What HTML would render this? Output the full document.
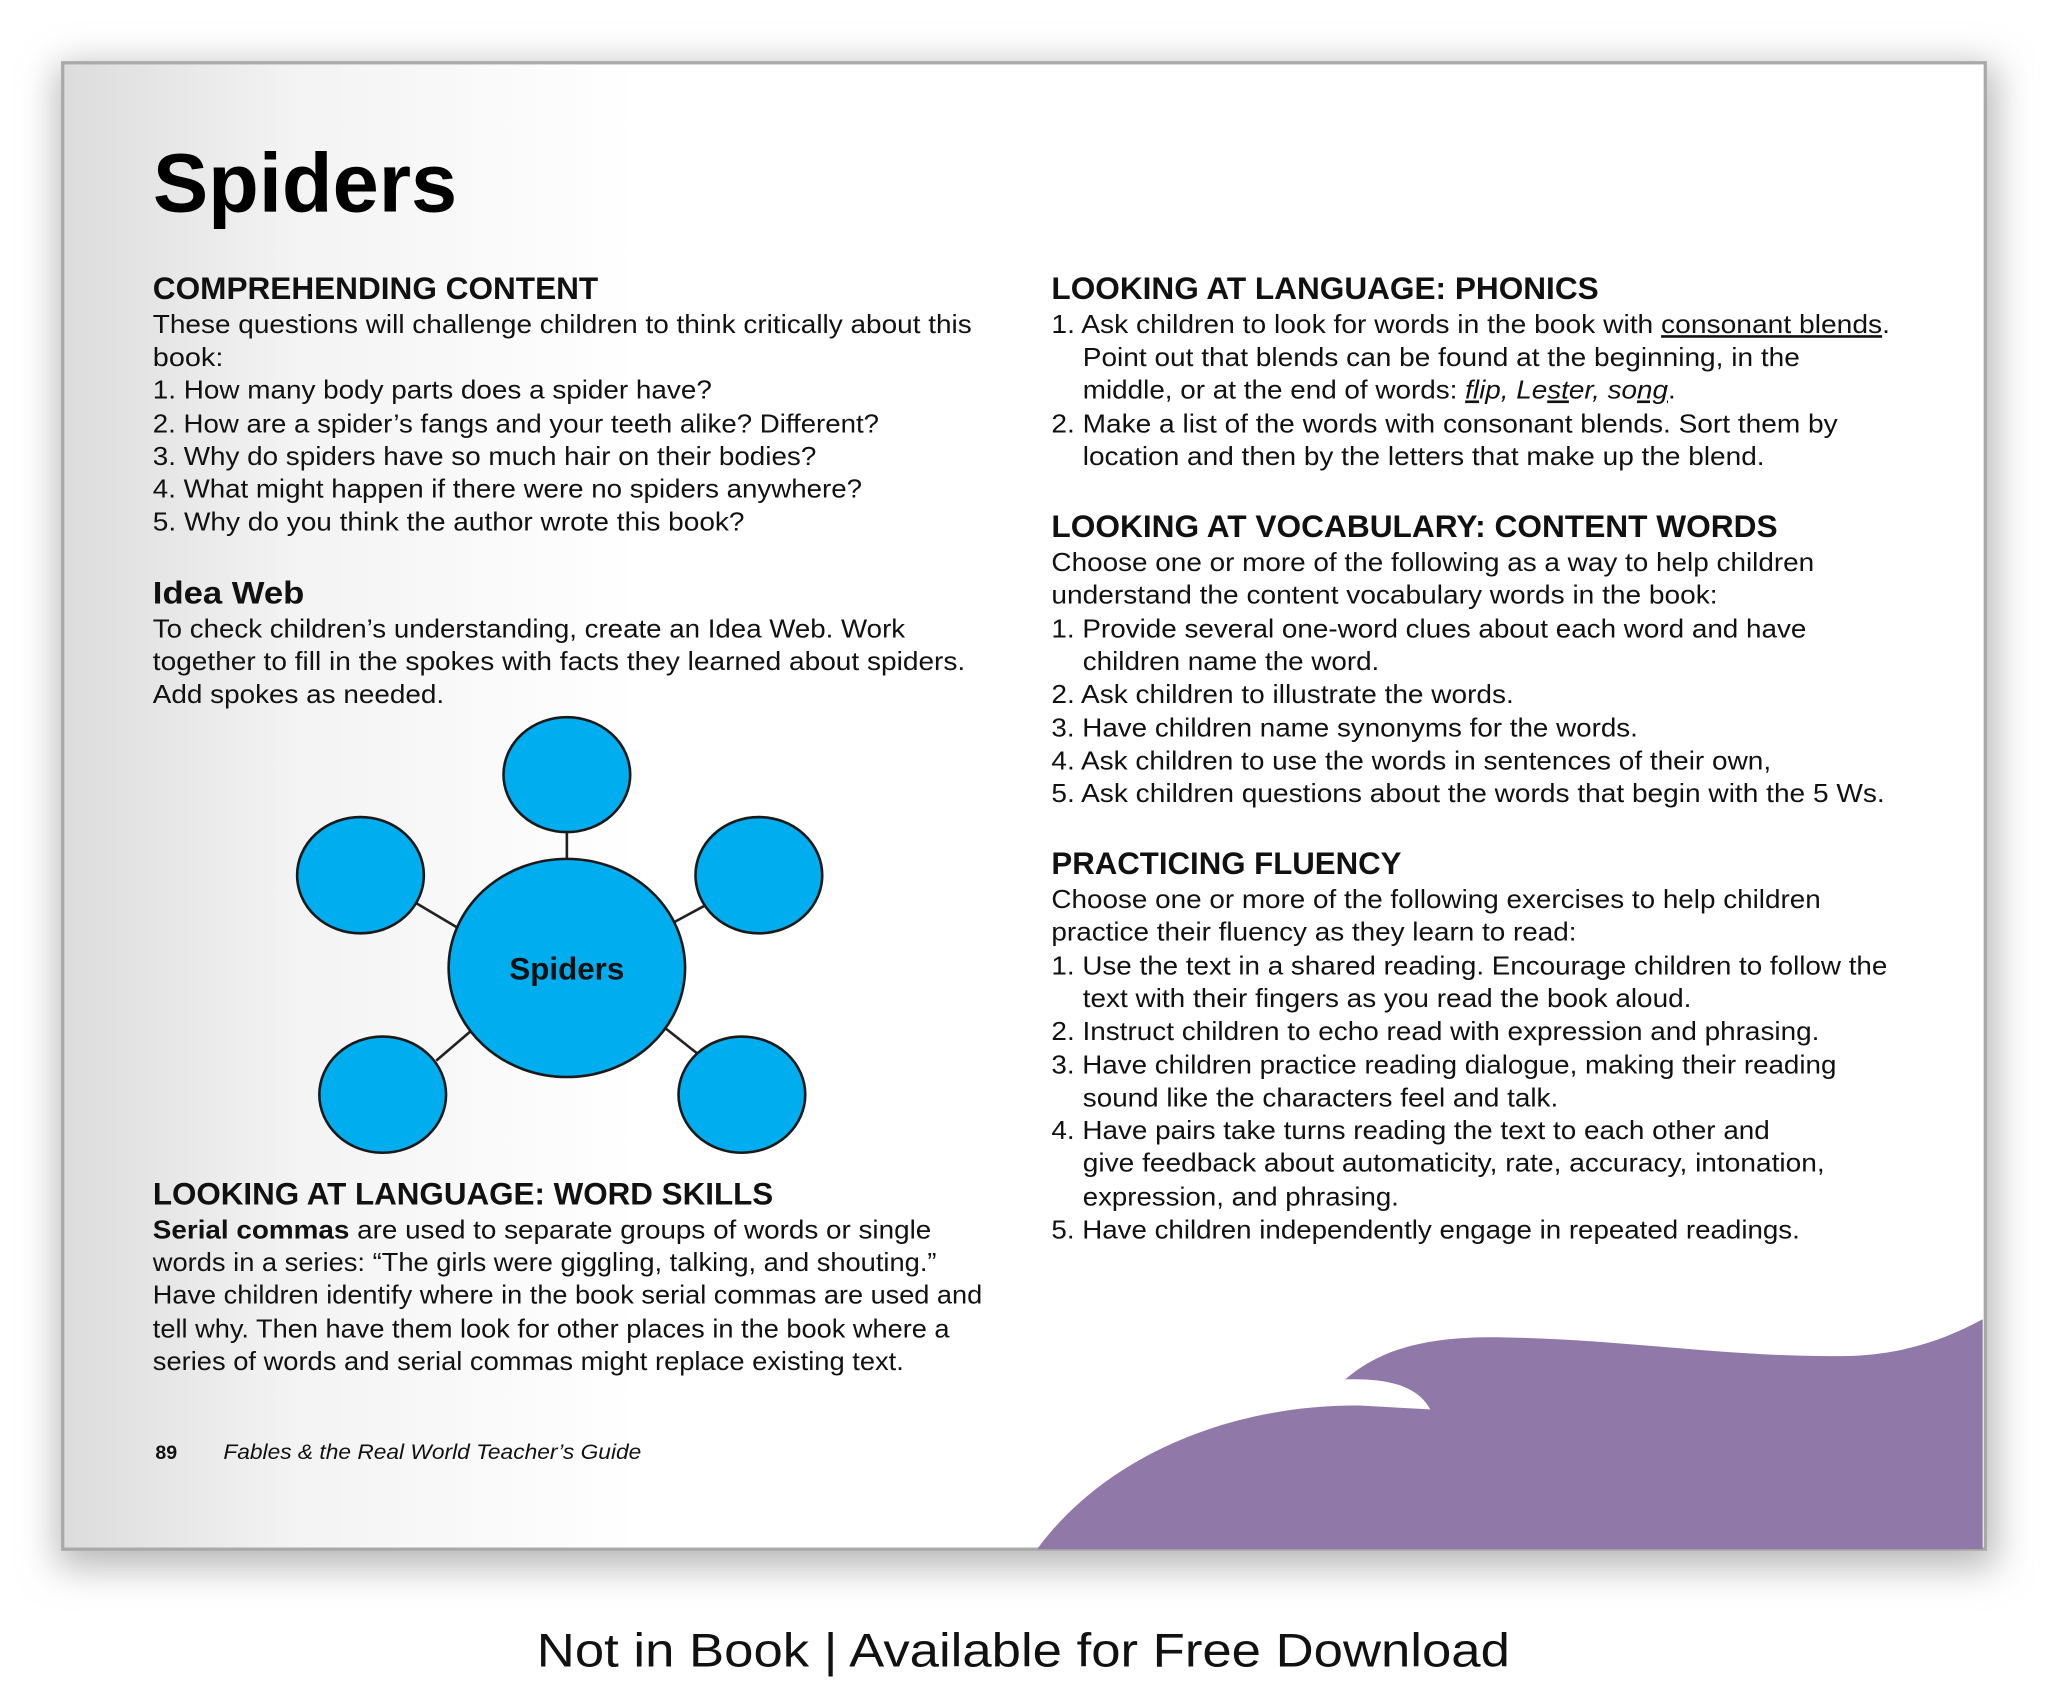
<!DOCTYPE html>
<html><head><meta charset="utf-8"><style>
html,body{margin:0;padding:0;background:#fff;}
svg{display:block;}
.b{font-family:"Liberation Sans",Arial,sans-serif;font-size:20px;fill:#111;}
.h{font-family:"Liberation Sans",Arial,sans-serif;font-size:24px;font-weight:bold;fill:#111;}
</style></head><body>
<svg width="2048" height="1706" viewBox="0 0 1568 1306" xmlns="http://www.w3.org/2000/svg">
<defs>
<linearGradient id="pg" x1="0" y1="0" x2="1" y2="0">
<stop offset="0" stop-color="#dcdcdc"/><stop offset="0.12" stop-color="#f3f3f3"/><stop offset="0.3" stop-color="#fff"/><stop offset="1" stop-color="#fff"/>
</linearGradient>
<filter id="sh" x="-10%" y="-10%" width="120%" height="120%"><feGaussianBlur stdDeviation="14"/></filter>
</defs>
<rect x="0" y="0" width="1568" height="1306" fill="#fff"/>
<rect x="44" y="50" width="1484" height="1150" fill="#b8b8b8" filter="url(#sh)"/>
<rect x="48" y="48" width="1472" height="1138" fill="url(#pg)" stroke="#a9a9a9" stroke-width="2.5"/>
<path d="M794,1186 C850,1110 950,1075 1041,1076 L1095,1079 C1085,1060 1060,1055 1030,1056 C1060,1030 1100,1022 1159,1024 C1250,1026 1330,1040 1419,1038 C1460,1036 1490,1025 1518,1010 L1518,1186 Z" fill="#9079a8"/>

<text x="117" y="162" font-family="Liberation Sans,Arial,sans-serif" font-size="64" font-weight="bold" fill="#000" textLength="233" lengthAdjust="spacingAndGlyphs">Spiders</text>

<text class="h" x="117" y="229" textLength="341" lengthAdjust="spacingAndGlyphs">COMPREHENDING CONTENT</text>
<text class="b" x="117" y="255" textLength="627" lengthAdjust="spacingAndGlyphs">These questions will challenge children to think critically about this</text>
<text class="b" x="117" y="280" textLength="54" lengthAdjust="spacingAndGlyphs">book:</text>
<text class="b" x="117" y="305" textLength="428" lengthAdjust="spacingAndGlyphs">1. How many body parts does a spider have?</text>
<text class="b" x="117" y="331" textLength="556" lengthAdjust="spacingAndGlyphs">2. How are a spider’s fangs and your teeth alike? Different?</text>
<text class="b" x="117" y="356" textLength="508" lengthAdjust="spacingAndGlyphs">3. Why do spiders have so much hair on their bodies?</text>
<text class="b" x="117" y="381" textLength="543" lengthAdjust="spacingAndGlyphs">4. What might happen if there were no spiders anywhere?</text>
<text class="b" x="117" y="406" textLength="453" lengthAdjust="spacingAndGlyphs">5. Why do you think the author wrote this book?</text>

<text class="h" x="117" y="462" textLength="116" lengthAdjust="spacingAndGlyphs">Idea Web</text>
<text class="b" x="117" y="488" textLength="576" lengthAdjust="spacingAndGlyphs">To check children’s understanding, create an Idea Web. Work</text>
<text class="b" x="117" y="513" textLength="622" lengthAdjust="spacingAndGlyphs">together to fill in the spokes with facts they learned about spiders.</text>
<text class="b" x="117" y="538" textLength="223" lengthAdjust="spacingAndGlyphs">Add spokes as needed.</text>

<g stroke="#222" stroke-width="2">
<line x1="434" y1="637" x2="434" y2="658"/>
<line x1="318" y1="691" x2="355" y2="713"/>
<line x1="516" y1="706" x2="542" y2="692"/>
<line x1="334" y1="812" x2="362" y2="788"/>
<line x1="508" y1="786" x2="537" y2="809"/>
</g>
<g fill="#00adee" stroke="#1a1a1a" stroke-width="2">
<ellipse cx="434" cy="741" rx="90.5" ry="83.5"/>
<ellipse cx="434" cy="593" rx="48.5" ry="44"/>
<ellipse cx="276" cy="670" rx="48.5" ry="44.5"/>
<ellipse cx="581" cy="670" rx="48.5" ry="44.5"/>
<ellipse cx="293" cy="838" rx="48.5" ry="44.5"/>
<ellipse cx="568" cy="838" rx="48.5" ry="44.5"/>
</g>
<text x="434" y="750" text-anchor="middle" font-family="Liberation Sans,Arial,sans-serif" font-size="24" font-weight="bold" fill="#111" textLength="88" lengthAdjust="spacingAndGlyphs">Spiders</text>

<text class="h" x="117" y="922" textLength="475" lengthAdjust="spacingAndGlyphs">LOOKING AT LANGUAGE: WORD SKILLS</text>
<text class="b" x="117" y="948" textLength="596" lengthAdjust="spacingAndGlyphs"><tspan font-weight="bold">Serial commas</tspan> are used to separate groups of words or single</text>
<text class="b" x="117" y="973" textLength="600" lengthAdjust="spacingAndGlyphs">words in a series: “The girls were giggling, talking, and shouting.”</text>
<text class="b" x="117" y="998" textLength="635" lengthAdjust="spacingAndGlyphs">Have children identify where in the book serial commas are used and</text>
<text class="b" x="117" y="1024" textLength="610" lengthAdjust="spacingAndGlyphs">tell why. Then have them look for other places in the book where a</text>
<text class="b" x="117" y="1049" textLength="575" lengthAdjust="spacingAndGlyphs">series of words and serial commas might replace existing text.</text>

<text x="119" y="1117" font-family="Liberation Sans,Arial,sans-serif" font-size="15" font-weight="bold" fill="#111">89</text>
<text x="171" y="1117" font-family="Liberation Sans,Arial,sans-serif" font-size="16" font-style="italic" fill="#111" textLength="320" lengthAdjust="spacingAndGlyphs">Fables &amp; the Real World Teacher’s Guide</text>

<text class="h" x="805" y="229" textLength="419" lengthAdjust="spacingAndGlyphs">LOOKING AT LANGUAGE: PHONICS</text>
<text class="b" x="805" y="255" textLength="642" lengthAdjust="spacingAndGlyphs">1. Ask children to look for words in the book with <tspan text-decoration="underline">consonant blends</tspan>.</text>
<text class="b" x="829" y="280" textLength="549" lengthAdjust="spacingAndGlyphs">Point out that blends can be found at the beginning, in the</text>
<text class="b" x="829" y="305" textLength="454" lengthAdjust="spacingAndGlyphs">middle, or at the end of words: <tspan font-style="italic" text-decoration="underline">fl</tspan><tspan font-style="italic">ip, Le</tspan><tspan font-style="italic" text-decoration="underline">st</tspan><tspan font-style="italic">er, so</tspan><tspan font-style="italic" text-decoration="underline">ng</tspan>.</text>
<text class="b" x="805" y="331" textLength="602" lengthAdjust="spacingAndGlyphs">2. Make a list of the words with consonant blends. Sort them by</text>
<text class="b" x="829" y="356" textLength="522" lengthAdjust="spacingAndGlyphs">location and then by the letters that make up the blend.</text>

<text class="h" x="805" y="411" textLength="556" lengthAdjust="spacingAndGlyphs">LOOKING AT VOCABULARY: CONTENT WORDS</text>
<text class="b" x="805" y="437" textLength="584" lengthAdjust="spacingAndGlyphs">Choose one or more of the following as a way to help children</text>
<text class="b" x="805" y="462" textLength="510" lengthAdjust="spacingAndGlyphs">understand the content vocabulary words in the book:</text>
<text class="b" x="805" y="488" textLength="578" lengthAdjust="spacingAndGlyphs">1. Provide several one-word clues about each word and have</text>
<text class="b" x="829" y="513" textLength="227" lengthAdjust="spacingAndGlyphs">children name the word.</text>
<text class="b" x="805" y="538" textLength="354" lengthAdjust="spacingAndGlyphs">2. Ask children to illustrate the words.</text>
<text class="b" x="805" y="564" textLength="449" lengthAdjust="spacingAndGlyphs">3. Have children name synonyms for the words.</text>
<text class="b" x="805" y="589" textLength="551" lengthAdjust="spacingAndGlyphs">4. Ask children to use the words in sentences of their own,</text>
<text class="b" x="805" y="614" textLength="638" lengthAdjust="spacingAndGlyphs">5. Ask children questions about the words that begin with the 5 Ws.</text>

<text class="h" x="805" y="669" textLength="268" lengthAdjust="spacingAndGlyphs">PRACTICING FLUENCY</text>
<text class="b" x="805" y="695" textLength="589" lengthAdjust="spacingAndGlyphs">Choose one or more of the following exercises to help children</text>
<text class="b" x="805" y="720" textLength="402" lengthAdjust="spacingAndGlyphs">practice their fluency as they learn to read:</text>
<text class="b" x="805" y="746" textLength="640" lengthAdjust="spacingAndGlyphs">1. Use the text in a shared reading. Encourage children to follow the</text>
<text class="b" x="829" y="771" textLength="466" lengthAdjust="spacingAndGlyphs">text with their fingers as you read the book aloud.</text>
<text class="b" x="805" y="796" textLength="588" lengthAdjust="spacingAndGlyphs">2. Instruct children to echo read with expression and phrasing.</text>
<text class="b" x="805" y="822" textLength="601" lengthAdjust="spacingAndGlyphs">3. Have children practice reading dialogue, making their reading</text>
<text class="b" x="829" y="847" textLength="364" lengthAdjust="spacingAndGlyphs">sound like the characters feel and talk.</text>
<text class="b" x="805" y="872" textLength="550" lengthAdjust="spacingAndGlyphs">4. Have pairs take turns reading the text to each other and</text>
<text class="b" x="829" y="897" textLength="568" lengthAdjust="spacingAndGlyphs">give feedback about automaticity, rate, accuracy, intonation,</text>
<text class="b" x="829" y="923" textLength="242" lengthAdjust="spacingAndGlyphs">expression, and phrasing.</text>
<text class="b" x="805" y="948" textLength="573" lengthAdjust="spacingAndGlyphs">5. Have children independently engage in repeated readings.</text>

<text x="411" y="1276" font-family="Liberation Sans,Arial,sans-serif" font-size="36" fill="#111" textLength="745" lengthAdjust="spacingAndGlyphs">Not in Book | Available for Free Download</text>
</svg>
</body></html>
